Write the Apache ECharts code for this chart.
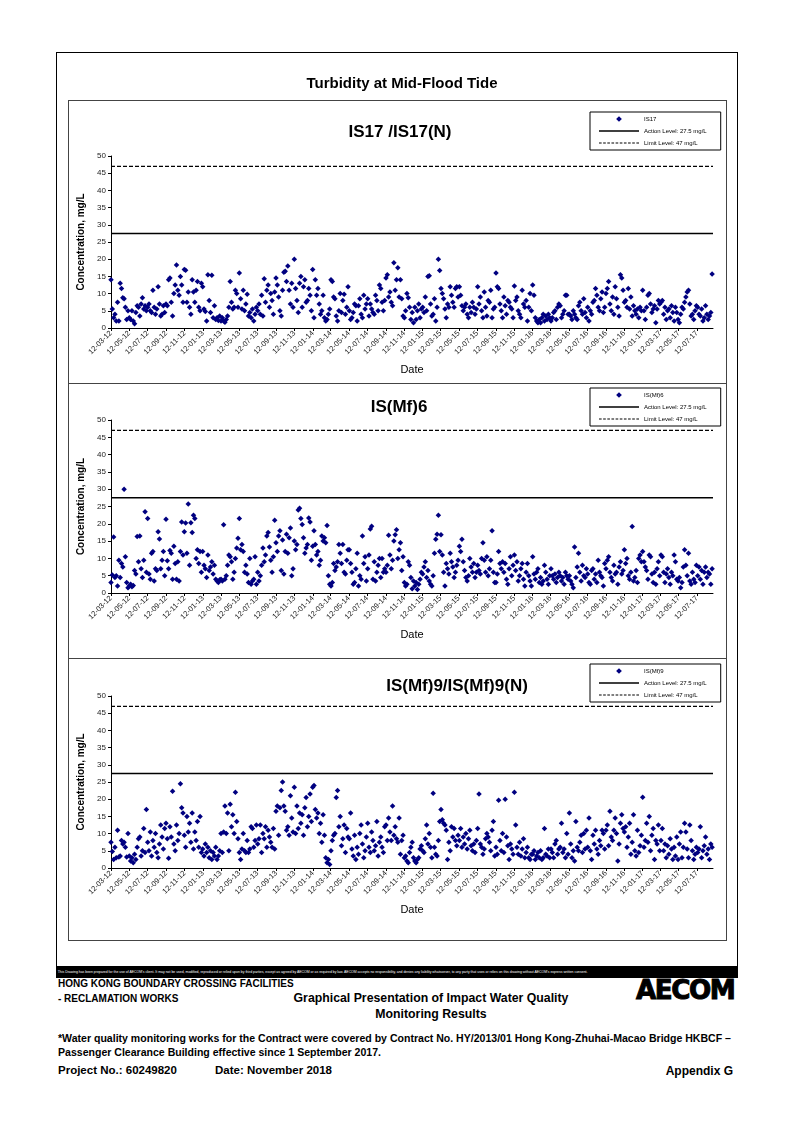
<!DOCTYPE html>
<html><head><meta charset="utf-8">
<script src="https://cdn.jsdelivr.net/npm/echarts@6/dist/echarts.min.js"></script>
<style>
body{margin:0;background:#fff;}
#page{position:relative;width:794px;height:1123px;font-family:"Liberation Sans",Arial,sans-serif;color:#000;overflow:hidden;}
.abs{position:absolute;}
#frame{left:56px;top:52px;width:680px;height:914px;border:1px solid #000;border-bottom:none;}
#chartbox{left:68px;top:100px;width:657px;height:839px;border:1px solid #444;}
.sep{left:68px;width:658px;height:0;border-top:1px solid #444;}
#bar{left:56px;top:966px;width:682px;height:12px;background:#000;color:#fff;font-size:4px;line-height:12px;white-space:nowrap;overflow:hidden;}
#bar span{display:inline-block;transform:scaleX(0.86);transform-origin:left center;padding-left:2px;}
.ft{font-weight:bold;white-space:nowrap;}
#chart{left:0;top:0;width:794px;height:1123px;}
</style>
</head>
<body>
<div id="page">
  <div id="frame" class="abs"></div>
  <div id="chartbox" class="abs"></div>
  <div class="abs sep" style="top:383px"></div>
  <div class="abs sep" style="top:658px"></div>
  <div id="bar" class="abs"><span>This Drawing has been prepared for the use of AECOM's client. It may not be used, modified, reproduced or relied upon by third parties, except as agreed by AECOM or as required by law. AECOM accepts no responsibility, and denies any liability whatsoever, to any party that uses or relies on this drawing without AECOM's express written consent.</span></div>
  <div class="abs ft" style="left:58px;top:978px;font-size:10px;">HONG KONG BOUNDARY CROSSING FACILITIES</div>
  <div class="abs ft" style="left:58px;top:993px;font-size:10px;">- RECLAMATION WORKS</div>
  <div class="abs ft" style="left:288px;top:990px;width:286px;text-align:center;font-size:12.3px;line-height:16px;">Graphical Presentation of Impact Water Quality<br>Monitoring Results</div>
  <div class="abs ft" style="left:636px;top:974px;font-family:'DejaVu Sans',sans-serif;font-size:27px;font-weight:900;letter-spacing:-1.5px;-webkit-text-stroke:1px #000;transform:scaleX(0.97);transform-origin:left top;">AECOM</div>
  <div class="abs ft" style="left:58px;top:1031px;font-size:10.55px;line-height:14px;">*Water quality monitoring works for the Contract were covered by Contract No. HY/2013/01 Hong Kong-Zhuhai-Macao Bridge HKBCF –<br>Passenger Clearance Building effective since 1 September 2017.</div>
  <div class="abs ft" style="left:58px;top:1064px;font-size:11.5px;">Project No.: 60249820</div>
  <div class="abs ft" style="left:215px;top:1064px;font-size:11.5px;">Date: November 2018</div>
  <div class="abs ft" style="left:633px;top:1064px;width:100px;text-align:right;font-size:12px;">Appendix G</div>
  <div id="chart" class="abs"></div>
</div>
<script>
// ---------- DATA ----------
const mainTitle = 'Turbidity at Mid-Flood Tide';
const panelTitles = ['IS17 /IS17(N)', 'IS(Mf)6', 'IS(Mf)9/IS(Mf)9(N)'];
const stationNames = ['IS17', 'IS(Mf)6', 'IS(Mf)9'];
const actionLevel = 27.5;
const limitLevel = 47;
const actionName = 'Action Level: 27.5 mg/L';
const limitName = 'Limit Level: 47 mg/L';
const yTitle = 'Concentration, mg/L';
const xTitle = 'Date';
const firstSampleDate = '2012-03-12';
const lastSampleDate = '2017-08-31';
const axisEndDate = '2017-09-03';
const tickLabels = ['12-03-12','12-05-12','12-07-12','12-09-12','12-11-12',
 '12-01-13','12-03-13','12-05-13','12-07-13','12-09-13','12-11-13',
 '12-01-14','12-03-14','12-05-14','12-07-14','12-09-14','12-11-14',
 '12-01-15','12-03-15','12-05-15','12-07-15','12-09-15','12-11-15',
 '12-01-16','12-03-16','12-05-16','12-07-16','12-09-16','12-11-16',
 '12-01-17','12-03-17','12-05-17','12-07-17'];

// Turbidity readings (mg/L), in sampling order
const is17 = [
 14,5.5,3,4,2,7.5,2,13,11.5,8.8,8.5,6,2.5,5,
 3,2.5,5,2,1.2,4.5,6.5,6,3.5,7,8.8,5.5,6.5,5,
 6,7,5,4.5,11,6,4,5.5,12,7,3.5,4,6.5,4.5,
 7,6.5,14,14.5,7.5,3.5,10,12.5,18.3,11,9.5,15,12.5,7.5,
 17,16.8,7.5,10.5,6,4,14,10.5,7.5,11,13.5,6,5,13,
 12,5.5,4.8,2,15.5,8,4.5,15.3,3,6.5,2.5,3,2.2,3.5,
 2,3,2,1.7,2.5,3.5,6,13.5,7.5,5.5,6,11,10,6,
 16,8.5,5.5,11,5,7,9.8,3.5,4.5,3,5.5,2,4,6,
 5,7,4,9.5,3.5,14.3,7.5,11,12.5,6,10,8,4,10.5,
 14.5,12.5,9,5,3.5,11,16.2,16.5,13.5,18,11,7,13,6,
 20,11.5,8,4.5,13,15,6,12,14,7.5,8,11.5,9.5,5,
 17,3,14,9.5,11.5,7,4,5,9.5,3,2,2.5,4,5.5,
 14,13.5,9,8.5,3.5,2,5,10,4.5,8,9.8,4,6,12,
 5,2.5,3,4.5,7,6.5,2,6.5,8.5,4,3,9.5,5.5,7,
 8.5,3.5,7,5.5,4.5,4,9.5,8,5,12.5,11.5,7.5,5,8,
 14.5,15.5,9,10.5,7.5,6.5,19,11,14,17.5,9,14,8.5,3.5,
 3,5,10,8.8,6,2.5,4.5,1.5,6,2.5,5,7,3,5.5,
 6,4.5,9,5,15,15.2,7,3.5,4,8.5,2,6,20,16.7,
 11.5,10,8.5,5.5,3,7,6,12,9.5,7.5,6,11.5,12,9,
 12,9.5,6.5,5,6,7,4,3,6,4.5,7.5,6,4,5.5,
 12,7,9,5,3,10.5,6,3.5,8,7.5,11,3,5.5,6,
 16,12,11.5,7,5,3,9,6.5,4,8,7.5,6,5.5,3,
 12.2,8,9,5,4,3,11,7,6,8,2,6,10,5,
 12.5,9.5,3,2,1.5,2.5,1.5,3,4,2,3.5,2.5,4,3,
 2,3,4.5,5,2.5,6,7,6.5,3,4,5,9.5,9.5,4,
 4,3.5,2.5,5,4,3,2.5,6.5,7.5,5,4,8.5,4.5,3,
 6,2,5,4,7.5,8,11.5,9.5,6,5,8.5,10.5,4.5,6,
 10,11.5,13.5,7,5,9,4,12,8.5,6,3.5,15.5,14.5,11,
 7.5,8,6,11.5,5.5,9,3.5,6.5,5,4,5.5,3,6,5,
 11,5,2.5,6,9.5,10,7,4.5,5.5,6.5,1.5,5.5,8,7,
 7.5,8,4,6,2.5,5,5.5,3,6.5,4.5,2,6,4.5,2.5,
 1.5,4,6,5.5,7.5,9,10.5,11,7,3.5,4,2.5,5,6.5,
 6,4,3.5,5.5,2,3,6.5,4,2.5,3.5,4.5,15.7
];
const isMf6 = [
 3,5.2,16.2,4.5,5,2,9.5,4.5,8.5,7.5,30,10.5,3,1.5,
 2,2.5,1.8,2.2,6.5,5.5,16.3,9,16.5,7,4.5,9.5,23.5,6,
 21.5,5.5,4,11.5,12,3.5,7,6.5,17.7,15.6,7,9.5,12,5,
 21.3,9.3,7,12.3,11.5,4,13.5,8.5,4,9,3.5,12,20.5,11,
 17.7,20.2,11.5,25.7,8,20.3,17.5,22.5,21.5,10,12.5,8.5,12,6,
 12,8,7,4.5,11,6.5,7.5,9,5.5,8,4,3.5,3,3.8,
 4,3.5,19.7,4,5,8,11,10.5,9,4,6,10,13,15.8,
 21.5,12.5,14,12,6,8,5.5,3,10,2.5,3.5,4,10.5,2.5,
 6,3.5,5,8,13,9,11,16.5,17.5,13.3,9.5,6,10.5,21,
 14.5,12,16.5,18,6.5,15.3,5.5,12,17,11.5,16,18.8,5,7,
 15,12.5,14,24,24.5,21.5,19.8,16,11.5,13,14,21.7,20.5,9.5,
 13.5,18,14,11,12,8,9.5,16.5,15,16,14.5,19.5,5,2.5,
 2,3,8.5,6.5,7.5,9,14,11.5,8.5,14,6,5.5,9.5,12.5,
 12.5,8.5,6,2.5,3,7,11.5,2,5,4,16.5,8.5,10.5,3.5,
 7,11,18.5,19.3,4,9,3.5,6,8,10,4.5,10,6,7,
 6,8,16.7,11,7,9.5,15,16.8,18.3,10,12.5,14.5,6.5,10.5,
 3,2,2.5,9,8,4.5,1.2,3.5,2,3,1,2.5,4,6,
 5.5,7.5,9,4.5,6.5,3.5,2.5,2,5,11.5,15.5,17,22.5,12,
 16.8,11,6,2,8.5,7,5.5,11.5,9,7.5,4.5,6,8,9.5,
 13.5,12,15.5,9,6.5,4.5,3.5,5,10,7.5,6,8.5,4.5,6,
 8,6.5,5.5,10,14.5,9.5,6,10.5,5,7,9.5,18,6,3,
 3,5.5,12,8.5,7,9,6,8.5,4,2.5,7,10.5,5,8,
 11,6.5,9,3.5,5,7,8.5,4,2,6,8.5,5,3.5,2,
 10.5,5.5,4,6,7,3,4.5,2.5,3.5,8,6,4,2.5,5,
 7,5,4,5.5,3,4.5,6,5,3.5,4.5,2.5,6,5,4,
 5,3.5,2.5,1.5,13.3,4.5,7.5,11.5,6,3.5,8,5,4.5,7,
 5.5,3,2.5,6.5,7,4,5.5,3,9.5,6,5,4.5,2,8.5,
 7,9.5,10.5,6,4.5,3.5,8,5.5,6,2.5,7.5,9,5.5,6.5,
 12.5,8.5,10,5,4,6,19.2,3.5,4.5,6.5,3,10,11,9,
 12,9,7.5,6.5,4,11,10.5,5.5,3,6,2.5,7,9,5,
 11,10.5,6,3,5.5,7,4.5,2.5,6,5,11,9,4,3.5,
 4.5,1.5,3,7.5,12.5,8,5,11.5,3.5,2.5,6,4,3,8,
 5,7.5,4,6.5,2.5,6,7.5,4.5,6,5.5,2.5,7
];
const isMf9 = [
 7.5,4.8,2.5,6,3,11,3.2,3.5,8,7,7.5,6,3.2,10,
 3.5,2,3,1.5,4,2.5,6,8.5,9,3.5,5,11.5,4.5,17,
 7.5,5,10.5,3.5,8,6,10,4.5,3,7,12.5,9,5.5,11.5,
 13,8.5,2.8,12,9,22.3,7,5,12.5,8,10,24.5,17.5,16,
 9.5,6,15,10.5,13,7.5,16,5.5,10.5,8,13.5,6,15,4.5,
 5.5,3.5,7,4.5,6,3,5,2.5,4.5,3.5,6,2.5,3.5,5,
 10,4.5,10.5,18,10,16,5,18.5,12,15.5,10,22,13.5,8.5,
 4.5,2.5,5.5,10,5,4.5,8,4.5,5.5,12,11.5,6,8,12.5,
 7,8.5,12.5,4.5,10,8.5,12,6,11,9,7.5,6,11.5,5.5,
 16.5,18,9.5,17.5,22.5,25,18,16.5,11,12,9.5,21,14.5,10.5,
 23.5,10,18,11.5,16,13,15.5,9.5,17.5,20.5,12,15,21.5,13.5,
 23.5,24,17,14.5,16,10,13,7.5,15.5,9.5,3,1.5,2.5,1,
 5,8,9.5,10,20.5,22.5,12,15,6.5,8.5,12.5,4.5,11.5,9,
 8.5,16,5.5,3.5,9.5,2.5,6,4,10,12.5,7,3,5,9,
 13,6,4.5,10.5,8,5,6.5,13.5,3.5,7.5,9,6,4.5,12,
 12.5,8,14.5,10.5,8,18,9.5,12,8.5,7.5,14.5,4,8,9.5,
 3,3.5,2,1.5,4.5,6,7.5,3,2,1.5,2.5,3,5.5,6.5,
 5,4.5,8.5,12.5,7,10,6,3,21.7,6,4,3.5,8,13.5,
 17,14,13,12.5,11,2.5,7.5,5,12,9,11.5,8,6.5,9.5,
 8,11.5,6,9,7,10,5.5,8.5,11,6.5,5,7,4.5,8,
 11.5,21.5,7,6,4,5.5,8.5,10,9,7.5,5,11,13.5,3.5,
 6,4,19.7,8,5,10,4.5,20,9,6.5,2.5,7,5.5,4,
 22,12.5,6,4,7.5,3.5,5.5,8.5,3,4.5,6,3,2.5,4,
 4,5,2.5,3.5,4.5,3,5,2.5,3,11.5,4,3.5,5.5,3,
 5.5,4.5,3,7,8,4,5.5,6,13,4.5,5.5,3,10,4,
 16,7,3,5,2,13.5,6,5,7.5,9.5,4.5,10,5.5,11,
 6,14.5,5,2.5,9.5,7,11,5.5,4,8,6.5,11,10,5.5,
 11,12.5,6.5,16.5,9,8,11,14.5,10,2,7,13,15.5,11.5,
 10.5,12,6,9,13,4,7.5,15.5,5,3.5,11,4.5,6.5,9.5,
 20.6,6,8,13,7.5,15,5,9.5,11.5,2.5,8,7,12.5,5,
 8,11.5,5,7,3,6.5,4,8.5,5.5,2.5,6,3.5,9,2.5,
 7,10.5,3,6,13,10.5,5.5,3,12.5,8,5,2.5,4,6,
 4.5,5.5,12,3,5,6.5,9,4,5.5,2.5,7,6
];

// ---------- BUILD ----------
const DAY = 86400000;
const t0 = Date.parse(firstSampleDate + 'T00:00:00Z');
const dayOf = s => Math.round((Date.parse(s + 'T00:00:00Z') - t0) / DAY);
const labelToDay = l => { const p = l.split('-'); return dayOf('20' + p[2] + '-' + p[1] + '-' + p[0]); };
const tickDays = tickLabels.map(labelToDay);
const dayLabel = {}; tickDays.forEach((d, i) => dayLabel[d] = tickLabels[i]);
const lastDay = dayOf(lastSampleDate);
const axisMax = dayOf(axisEndDate);
function toPoints(vals) {
  const step = lastDay / (vals.length - 1);
  return vals.map((v, i) => [i * step, v]);
}
const seriesVals = [is17, isMf6, isMf9];

// legend icons (fit inside a 40 x 6 box)
const ICON_DIAMOND = 'path://M0,3L0.01,3L0,3.01Z M20,0.2L22.9,3L20,5.8L17.1,3Z M39.99,3L40,3L40,3.01Z';
const ICON_SOLID = 'path://M0,2.3L40,2.3L40,3.7L0,3.7Z';
let dash = '';
for (let x = 0; x < 40; x += 4.4) dash += 'M' + x.toFixed(1) + ',2.5L' + (x + 2.8).toFixed(1) + ',2.5L' + (x + 2.8).toFixed(1) + ',3.6L' + x.toFixed(1) + ',3.6Z';
const ICON_DASH = 'path://M0,0L0.01,0L0,0.01Z ' + dash + ' M39.99,6L40,6L40,5.99Z';

const FONT = '"Liberation Sans", Arial, sans-serif';
const grids = [
  {left: 111, top: 156, width: 602, height: 172},
  {left: 111, top: 420, width: 602, height: 173},
  {left: 111, top: 696, width: 602, height: 172}
];
const titleTops = [119, 394, 673];
const titleCx = [395, 394, 452];
const legendTops = [112, 388, 664];

const option = {
  animation: false,
  textStyle: {fontFamily: FONT},
  title: [{text: mainTitle, left: 397, top: 71, textAlign: 'center',
           textStyle: {fontSize: 15, fontWeight: 'bold', color: '#000', fontFamily: FONT}}]
    .concat(panelTitles.map((t, i) => ({text: t, left: titleCx[i], top: titleTops[i], textAlign: 'center',
           textStyle: {fontSize: 17, fontWeight: 'bold', color: '#000', fontFamily: FONT}}))),
  grid: grids.map(g => Object.assign({containLabel: false}, g)),
  legend: stationNames.map((n, i) => ({
    left: 590, top: legendTops[i], orient: 'vertical',
    data: [{name: n, icon: ICON_DIAMOND}, {name: actionName, icon: ICON_SOLID}, {name: limitName, icon: ICON_DASH}],
    itemWidth: 40, itemHeight: 6, itemGap: 6,
    padding: [4, 14, 4, 9],
    borderColor: '#000', borderWidth: 1, backgroundColor: '#fff',
    textStyle: {fontSize: 6, color: '#000', fontFamily: FONT},
    selectedMode: false
  })),
  xAxis: grids.map((g, i) => ({
    gridIndex: i, type: 'value', min: 0, max: axisMax,
    name: xTitle, nameLocation: 'middle', nameGap: 36,
    nameTextStyle: {fontSize: 11, color: '#000', fontFamily: FONT},
    splitLine: {show: false},
    axisLine: {show: true, onZero: false, lineStyle: {color: '#000', width: 1}},
    axisTick: {show: true, customValues: tickDays, length: 3, lineStyle: {color: '#000'}},
    axisLabel: {customValues: tickDays, rotate: 45, fontSize: 7.5, color: '#222', margin: 4,
                formatter: v => dayLabel[Math.round(v)] || ''}
  })),
  yAxis: grids.map((g, i) => ({
    gridIndex: i, type: 'value', min: 0, max: 50, interval: 5,
    name: yTitle, nameLocation: 'middle', nameGap: 23, nameRotate: 90,
    nameTextStyle: {fontSize: 10, fontWeight: 'bold', color: '#000', fontFamily: FONT},
    splitLine: {show: false},
    axisLine: {show: true, lineStyle: {color: '#000', width: 1}},
    axisTick: {show: true, length: 3, lineStyle: {color: '#000'}},
    axisLabel: {fontSize: 8, color: '#222', margin: 5}
  })),
  series: []
};
seriesVals.forEach((vals, i) => {
  option.series.push({
    name: stationNames[i], type: 'scatter', xAxisIndex: i, yAxisIndex: i,
    symbol: 'diamond', symbolSize: 5.5, data: toPoints(vals),
    itemStyle: {color: '#000080', opacity: 1}
  });
  option.series.push({
    name: actionName, type: 'line', xAxisIndex: i, yAxisIndex: i, symbol: 'none',
    data: [[0, actionLevel], [axisMax, actionLevel]],
    lineStyle: {color: '#000', width: 1.5, type: 'solid'}, itemStyle: {color: '#000'}
  });
  option.series.push({
    name: limitName, type: 'line', xAxisIndex: i, yAxisIndex: i, symbol: 'none',
    data: [[0, limitLevel], [axisMax, limitLevel]],
    lineStyle: {color: '#000', width: 1.2, type: [4, 2]}, itemStyle: {color: '#000'}
  });
});

const chart = echarts.init(document.getElementById('chart'), null, {renderer: 'canvas'});
chart.setOption(option);
</script>
</body></html>
